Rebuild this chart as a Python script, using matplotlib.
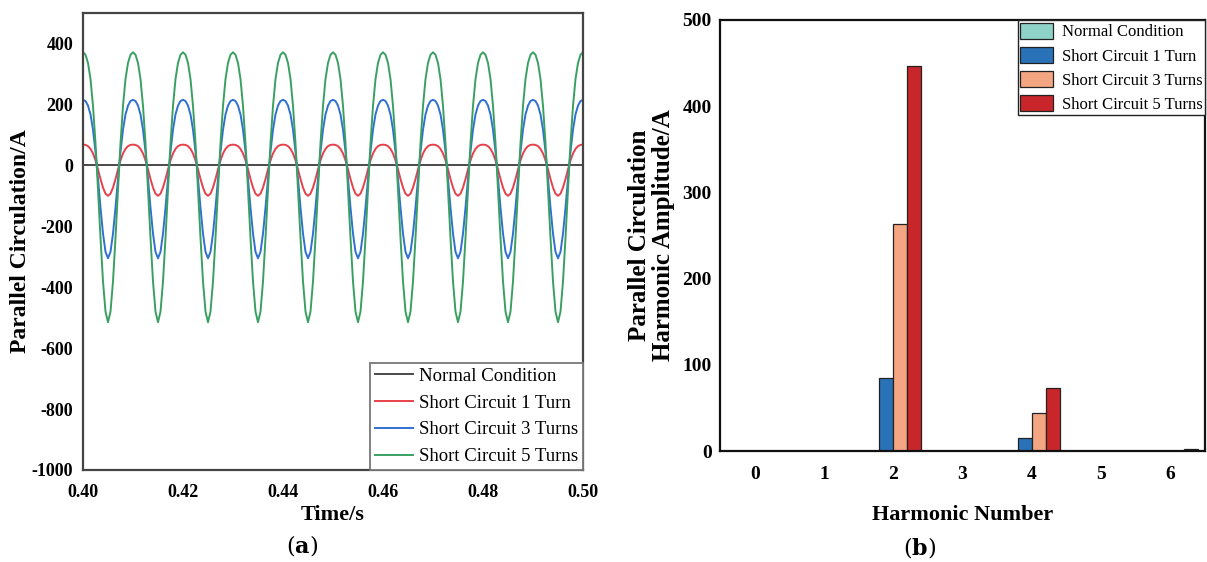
import numpy as np
import matplotlib
matplotlib.use("Agg")
import matplotlib.pyplot as plt

plt.rcParams["font.family"] = ["Liberation Serif", "DejaVu Serif"]
plt.rcParams["mathtext.fontset"] = "dejavuserif"
plt.rcParams["axes.unicode_minus"] = False

# ---------- data: (a) one period (0.01 s) of each waveform, sampled every 0.5 ms ----------
t_start = 0.40
t_step = 0.0005
n_periods = 10
normal_period = [0, 0, 0, 0, 0, 0, 0, 0, 0, 0, 0, 0, 0, 0, 0, 0, 0, 0, 0, 0]
sc1_period = [68, 67, 63, 54, 39, 16, -13, -45, -73, -93,
              -100, -93, -73, -45, -13, 16, 39, 54, 63, 67]
sc3_period = [215, 211, 196, 167, 117, 45, -44, -139, -224, -284,
              -305, -284, -224, -139, -44, 45, 117, 167, 196, 211]
sc5_period = [371, 363, 336, 283, 195, 72, -79, -238, -381, -480,
              -515, -480, -381, -238, -79, 72, 195, 283, 336, 363]

# ---------- data: (b) harmonic amplitudes ----------
harmonic = [0, 1, 2, 3, 4, 5, 6]
amp_normal = [0, 0, 0, 0, 0, 0, 0]
amp_sc1 = [0, 0, 85, 0, 15, 0, 0]
amp_sc3 = [0, 0, 263, 0, 44, 0, 0]
amp_sc5 = [0, 0, 447, 0, 73, 0, 2]

labels = ["Normal Condition", "Short Circuit 1 Turn",
          "Short Circuit 3 Turns", "Short Circuit 5 Turns"]
line_cols = ["#4a4a4a", "#e8414a", "#2f70d2", "#3aa062"]
bar_cols = ["#8fd3c8", "#2a72b8", "#f4a582", "#c9262c"]

W, H = 1207, 562
fig = plt.figure(figsize=(W / 100, H / 100), dpi=100)

# ---------- (a) time waveform ----------
ax = fig.add_axes([83 / W, 1 - 470 / H, 500 / W, 457 / H])
for per, c, lab in zip([normal_period, sc1_period, sc3_period, sc5_period],
                       line_cols, labels):
    y = np.append(np.tile(per, n_periods), per[0])
    t = t_start + t_step * np.arange(len(y))
    ax.plot(t, y, color=c, lw=1.4, label=lab)
ax.set_xlim(0.40, 0.50)
ax.set_ylim(-1000, 500)
ax.set_xticks([0.40, 0.42, 0.44, 0.46, 0.48, 0.50])
ax.set_yticks([-1000, -800, -600, -400, -200, 0, 200, 400])
ax.tick_params(length=0, labelsize=13)
ax.tick_params(axis="x", pad=10)
ax.tick_params(axis="y", pad=7)
for lb in ax.get_xticklabels() + ax.get_yticklabels():
    lb.set_fontweight("bold")
for s in ax.spines.values():
    s.set_color("#444444"); s.set_linewidth(1.6)
ax.set_xlabel("Time/s", fontsize=16, fontweight="bold", labelpad=3)
ax.set_ylabel("Parallel Circulation/A", fontsize=17, fontweight="bold")
ax.yaxis.set_label_coords(-0.104, 0.5)
leg = ax.legend(loc="lower right", bbox_to_anchor=(1, 0), borderaxespad=0,
                fontsize=13.5, handlelength=2.0, handletextpad=0.35,
                labelspacing=0.52, borderpad=0.25, fancybox=False,
                framealpha=1, edgecolor="#777777")
leg.get_frame().set_linewidth(1.3)

# ---------- (b) harmonic spectrum ----------
bx = fig.add_axes([720 / W, 1 - 451 / H, 485 / W, 431 / H])
w = 0.2
x = np.array(harmonic)
for i, (amp, c, lab) in enumerate(zip([amp_normal, amp_sc1, amp_sc3, amp_sc5],
                                      bar_cols, labels)):
    bx.bar(x + (i - 1.5) * w, amp, width=w, color=c, edgecolor="#222222",
           linewidth=0.9, label=lab)
bx.set_xlim(-0.5, 6.5)
bx.set_ylim(0, 500)
bx.set_xticks(harmonic)
bx.set_yticks([0, 100, 200, 300, 400, 500])
bx.tick_params(length=0, labelsize=14)
bx.tick_params(axis="x", pad=11)
bx.tick_params(axis="y", pad=6)
for lb in bx.get_xticklabels() + bx.get_yticklabels():
    lb.set_fontweight("bold")
for s in bx.spines.values():
    s.set_color("#111111"); s.set_linewidth(1.6)
bx.set_xlabel("Harmonic Number", fontsize=16, fontweight="bold", labelpad=16)
bx.set_ylabel("Parallel Circulation\nHarmonic Amplitude/A", fontsize=18,
              fontweight="bold", linespacing=1.05)
bx.yaxis.set_label_coords(-0.093, 0.5)
leg2 = bx.legend(loc="upper right", borderaxespad=0, fontsize=12,
                 handlelength=2.0, handleheight=1.15, handletextpad=0.5,
                 labelspacing=0.37, borderpad=0.15, fancybox=False,
                 framealpha=1, edgecolor="#222222")
leg2.get_frame().set_linewidth(1.0)

# panel tags
fig.text(302 / W, 1 - 546 / H, r"($\mathbf{a}$)", fontsize=16,
         ha="center", va="center", family="DejaVu Serif")
fig.text(920 / W, 1 - 547 / H, r"($\mathbf{b}$)", fontsize=16,
         ha="center", va="center", family="DejaVu Serif")

fig.savefig("out.png", dpi=100)
